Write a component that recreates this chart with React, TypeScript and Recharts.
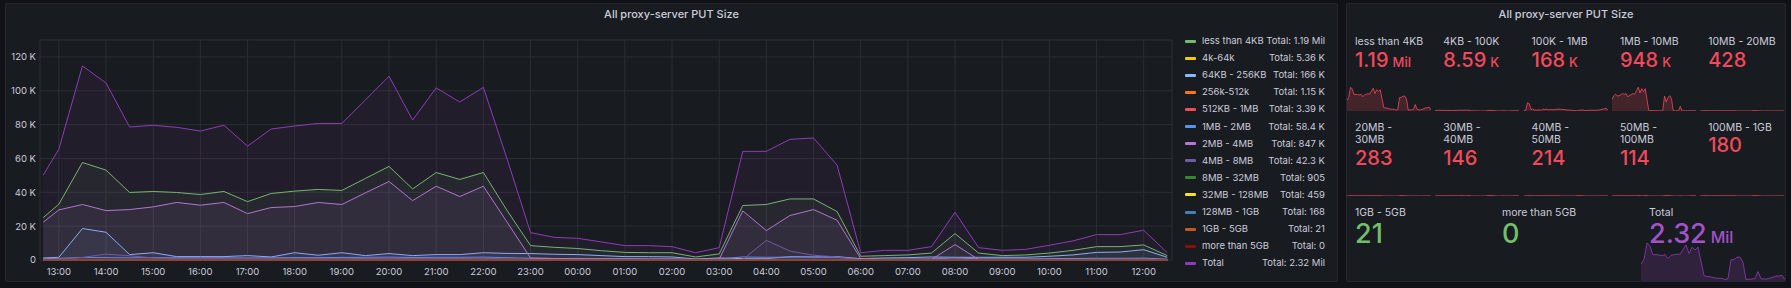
import React from "react";
import { AreaChart, Area, XAxis, YAxis, CartesianGrid } from "recharts";

const FONT = 'Inter, "Noto Sans", sans-serif';
const TEXT = "#ccccdc";

// sample times (30 min steps, first sample is the range start)
const TIMES = [
  "12:40", "13:00", "13:30", "14:00", "14:30", "15:00", "15:30", "16:00", "16:30", "17:00",
  "17:30", "18:00", "18:30", "19:00", "19:30", "20:00", "20:30", "21:00", "21:30", "22:00",
  "22:30", "23:00", "23:30", "00:00", "00:30", "01:00", "01:30", "02:00", "02:30", "03:00",
  "03:30", "04:00", "04:30", "05:00", "05:30", "06:00", "06:30", "07:00", "07:30", "08:00",
  "08:30", "09:00", "09:30", "10:00", "10:30", "11:00", "11:30", "12:00", "12:30",
];

const HOUR_TICKS = [
  "13:00", "14:00", "15:00", "16:00", "17:00", "18:00", "19:00", "20:00", "21:00", "22:00",
  "23:00", "00:00", "01:00", "02:00", "03:00", "04:00", "05:00", "06:00", "07:00", "08:00",
  "09:00", "10:00", "11:00", "12:00",
];

const Y_TICKS = [0, 20000, 40000, 60000, 80000, 100000, 120000];

const lessThan4KB = [
  25000, 33000, 57600, 53100, 39900, 40500, 39900, 38700, 40500, 34500,
  39300, 40700, 41700, 41100, 48200, 55300, 42000, 51700, 47600, 51700,
  29400, 8500, 7500, 6800, 5500, 4500, 4300, 4300, 1800, 3600,
  32200, 32800, 36100, 36100, 28600, 2200, 2600, 3000, 4100, 15600,
  4100, 2600, 3000, 4100, 5700, 7900, 7900, 8900, 2600,
];
const kb4to64 = [
  60, 80, 150, 140, 110, 120, 110, 110, 120, 100,
  110, 120, 120, 120, 140, 160, 120, 150, 140, 150,
  90, 40, 30, 30, 30, 20, 20, 20, 10, 20,
  110, 110, 120, 120, 90, 20, 20, 20, 30, 60,
  20, 20, 20, 30, 40, 50, 50, 60, 20,
];
const kb64to256 = [
  1200, 1600, 18600, 16400, 3200, 4300, 2000, 2000, 2000, 2600,
  1800, 4300, 2800, 4300, 2600, 3800, 2600, 3200, 3200, 4300,
  3900, 3800, 3400, 3200, 2600, 2000, 2000, 1800, 600, 1200,
  800, 800, 2000, 1800, 2000, 800, 1200, 1400, 1800, 1600,
  1600, 1600, 1600, 2200, 3000, 4500, 4700, 6100, 1600,
];
const kb256to512 = [
  10, 20, 40, 30, 20, 20, 20, 20, 20, 20,
  20, 20, 20, 20, 30, 30, 20, 30, 30, 30,
  20, 10, 10, 10, 10, 10, 10, 10, 0, 10,
  30, 30, 30, 30, 20, 0, 10, 10, 10, 20,
  10, 10, 10, 10, 10, 20, 20, 20, 10,
];
const kb512to1MB = [
  40, 50, 120, 110, 80, 70, 70, 70, 70, 60,
  70, 70, 70, 70, 80, 90, 70, 80, 80, 90,
  50, 20, 20, 20, 20, 10, 10, 10, 10, 10,
  70, 90, 80, 80, 60, 10, 10, 10, 20, 40,
  10, 10, 10, 20, 20, 30, 30, 30, 10,
];
const mb1to2 = [
  800, 1000, 1500, 1400, 1300, 1400, 1300, 1300, 1300, 1200,
  1300, 1400, 1400, 1500, 1600, 1700, 1500, 1600, 1600, 1700,
  1400, 1000, 900, 900, 800, 800, 700, 700, 500, 600,
  1800, 1600, 1700, 1800, 1500, 600, 600, 600, 700, 1200,
  700, 700, 700, 800, 900, 1000, 1000, 1100, 500,
];
const mb2to4 = [
  22300, 29600, 32800, 29200, 29800, 31400, 34000, 32400, 34000, 27400,
  31000, 31600, 34000, 32800, 39700, 46400, 35100, 43600, 37500, 43600,
  22500, 1200, 900, 700, 600, 500, 500, 500, 300, 500,
  29000, 17400, 26300, 29800, 23500, 800, 300, 300, 300, 9100,
  300, 300, 300, 400, 400, 400, 400, 500, 200,
];
const mb4to8 = [
  300, 500, 1500, 3500, 2500, 1200, 800, 700, 700, 600,
  700, 700, 800, 700, 900, 1000, 800, 900, 900, 1000,
  600, 200, 200, 100, 100, 100, 100, 100, 100, 100,
  300, 11600, 5300, 2800, 1800, 100, 100, 100, 100, 400,
  100, 100, 100, 100, 100, 200, 200, 200, 100,
];
const mb8to32 = [
  10, 10, 30, 30, 20, 20, 20, 20, 20, 20,
  20, 20, 20, 20, 30, 30, 20, 30, 20, 30,
  20, 10, 0, 0, 0, 0, 0, 0, 0, 0,
  30, 40, 30, 30, 20, 0, 0, 0, 0, 10,
  0, 0, 0, 0, 10, 10, 10, 10, 0,
];
const mb32to128 = [
  0, 10, 10, 10, 10, 10, 10, 10, 10, 10,
  10, 10, 10, 10, 10, 20, 10, 10, 10, 20,
  10, 0, 0, 0, 0, 0, 0, 0, 0, 0,
  20, 20, 20, 20, 10, 0, 0, 0, 0, 10,
  0, 0, 0, 0, 0, 10, 10, 10, 0,
];
const mb128to1GB = [
  0, 0, 10, 10, 0, 10, 0, 0, 10, 0,
  0, 10, 0, 10, 10, 10, 0, 10, 10, 10,
  0, 0, 0, 0, 0, 0, 0, 0, 0, 0,
  10, 10, 10, 10, 0, 0, 0, 0, 0, 0,
  0, 0, 0, 0, 0, 0, 0, 10, 0,
];
const gb1to5 = [
  0, 0, 2, 1, 0, 1, 0, 0, 1, 0,
  0, 1, 0, 1, 1, 2, 0, 1, 1, 2,
  0, 0, 0, 0, 0, 0, 0, 0, 0, 0,
  1, 2, 1, 1, 0, 0, 0, 0, 0, 1,
  0, 0, 0, 0, 0, 0, 0, 0, 0,
];
const moreThan5GB = [
  0, 0, 0, 0, 0, 0, 0, 0, 0, 0,
  0, 0, 0, 0, 0, 0, 0, 0, 0, 0,
  0, 0, 0, 0, 0, 0, 0, 0, 0, 0,
  0, 0, 0, 0, 0, 0, 0, 0, 0, 0,
  0, 0, 0, 0, 0, 0, 0, 0, 0,
];
const total = [
  50100, 65500, 114700, 104600, 78600, 79600, 78400, 76200, 79600, 67300,
  77400, 79200, 80700, 80700, 94600, 108600, 82700, 101700, 93400, 102000,
  60000, 16200, 13400, 12800, 10700, 8500, 8500, 7900, 4300, 7300,
  64200, 64200, 71300, 72100, 56000, 4300, 5700, 5700, 7900, 28200,
  7300, 5700, 6300, 8700, 11300, 15000, 15000, 17600, 4300,
];

const SERIES_NAMES = [
  "less than 4KB", "4k-64k", "64KB - 256KB", "256k-512k", "512KB - 1MB", "1MB - 2MB",
  "2MB - 4MB", "4MB - 8MB", "8MB - 32MB", "32MB - 128MB", "128MB - 1GB", "1GB - 5GB",
  "more than 5GB", "Total",
];
const SERIES_TOTALS = [
  "1.19 Mil", "5.36 K", "166 K", "1.15 K", "3.39 K", "58.4 K", "847 K", "42.3 K",
  "905", "459", "168", "21", "0", "2.32 Mil",
];
const SERIES_DATA = [
  lessThan4KB, kb4to64, kb64to256, kb256to512, kb512to1MB, mb1to2, mb2to4, mb4to8,
  mb8to32, mb32to128, mb128to1GB, gb1to5, moreThan5GB, total,
];
const COLORS = [
  "#73BF69", "#F2CC0C", "#8AB8FF", "#FF780A", "#F2495C", "#5794F2", "#B877D9",
  "#705DA0", "#37872D", "#FADE2A", "#447EBC", "#C15C17", "#890F02", "#8F3BB8",
];

// stat panel
const STAT_LABELS = [
  "less than 4KB", "4KB - 100K", "100K - 1MB", "1MB - 10MB", "10MB - 20MB",
  "20MB -\n30MB", "30MB -\n40MB", "40MB -\n50MB", "50MB -\n100MB", "100MB - 1GB",
  "1GB - 5GB", "more than 5GB", "Total",
];
const STAT_VALUES = ["1.19", "8.59", "168", "948", "428", "283", "146", "214", "114", "180", "21", "0", "2.32"];
const STAT_UNITS = ["Mil", "K", "K", "K", "", "", "", "", "", "", "", "", "Mil"];
const STAT_SPARKS = [
  lessThan4KB, kb4to64, kb64to256, mb2to4, mb8to32,
  mb8to32, mb32to128, mb8to32, mb32to128, mb8to32,
  null, null, total,
];

// turn "HH:MM" labels into minutes on a continuous timeline (wraps past midnight)
function toTimeline(labels: string[]) {
  let day = 0;
  let prev = -1;
  return labels.map((s) => {
    const [h, m] = s.split(":").map(Number);
    let v = h * 60 + m + day * 1440;
    if (v < prev) {
      day += 1;
      v += 1440;
    }
    prev = v;
    return v;
  });
}

const times = toTimeline(TIMES);
const hourTicks = toTimeline(HOUR_TICKS);

const rows = times.map((t, i) => {
  const r: Record<string, number> = { t };
  SERIES_DATA.forEach((d, k) => {
    r[`s${k}`] = d[i];
  });
  return r;
});

const fmtTime = (v: number) => {
  const h = Math.floor(v / 60) % 24;
  const m = v % 60;
  return `${String(h).padStart(2, "0")}:${String(m).padStart(2, "0")}`;
};
const fmtY = (v: number) => (v === 0 ? "0" : `${v / 1000} K`);

function Spark({ data, color, width, height, scale }: any) {
  const pts = data.map((v: number, i: number) => ({ i, v }));
  return (
    <AreaChart width={width} height={height} data={pts} margin={{ top: 1, right: 0, bottom: 0, left: 0 }}>
      <XAxis dataKey="i" type="number" domain={["dataMin", "dataMax"]} hide />
      <YAxis hide domain={[0, (max: number) => Math.max(max * scale, 1)]} />
      <Area
        type="linear"
        dataKey="v"
        stroke={color}
        strokeOpacity={0.8}
        strokeWidth={1}
        fill={color}
        fillOpacity={0.2}
        dot={false}
        activeDot={false}
        isAnimationActive={false}
      />
    </AreaChart>
  );
}

function StatCell({ idx }: { idx: number }) {
  let x: number, w: number, labelTop: number, sparkTop: number, sparkH: number, valueSize: number, unitSize: number;
  const color = idx >= 12 ? "#A352CC" : idx >= 10 ? "#73BF69" : "#F2495C";
  const sparkColor = idx >= 12 ? "#8F3BB8" : "#F2495C";
  if (idx < 10) {
    const col = idx % 5;
    x = 1347 + col * 88.3;
    w = 84;
    labelTop = idx < 5 ? 35.8 : 121.5;
    sparkTop = idx < 5 ? 85 : 170;
    sparkH = 26;
    valueSize = 20;
    unitSize = 13;
  } else {
    x = 1347 + (idx - 10) * 147;
    w = 144;
    labelTop = 206.5;
    sparkTop = 240;
    sparkH = 41;
    valueSize = 27;
    unitSize = 16;
  }
  const spark = STAT_SPARKS[idx];
  const scale = idx === 2 ? 3 : idx === 1 ? 30 : idx >= 4 && idx < 10 ? 60 : 1.05;
  return (
    <>
      {spark && (
        <div style={{ position: "absolute", left: x, top: sparkTop }}>
          <Spark data={spark} color={sparkColor} width={w} height={sparkH} scale={scale} />
        </div>
      )}
      <div style={{ position: "absolute", left: x + 8, top: labelTop }}>
        <div style={{ fontSize: 10.5, lineHeight: "12.7px", whiteSpace: "pre-line", color: TEXT }}>
          {STAT_LABELS[idx]}
        </div>
        <div style={{ marginTop: -1, lineHeight: 1.21, color, whiteSpace: "nowrap" }}>
          <span style={{ fontSize: valueSize, fontWeight: 500 }}>{STAT_VALUES[idx]}</span>
          {STAT_UNITS[idx] && (
            <span style={{ fontSize: unitSize, fontWeight: 500, marginLeft: 4 }}>{STAT_UNITS[idx]}</span>
          )}
        </div>
      </div>
    </>
  );
}

export default function App() {
  return (
    <div
      style={{
        position: "fixed",
        left: 0,
        top: 0,
        width: 1791,
        height: 288,
        background: "#111217",
        fontFamily: FONT,
        color: TEXT,
        overflow: "hidden",
      }}
    >
      {/* time series panel */}
      <div
        style={{
          position: "absolute",
          left: 5,
          top: 3,
          width: 1333,
          height: 279,
          background: "#181b1f",
          border: "1px solid #24272d",
          borderRadius: 2,
          boxSizing: "border-box",
        }}
      />
      <div
        style={{
          position: "absolute",
          left: 5,
          width: 1333,
          top: 8.5,
          textAlign: "center",
          fontSize: 11,
          lineHeight: 1,
          fontWeight: 500,
        }}
      >
        All proxy-server PUT Size
      </div>
      <div style={{ position: "absolute", left: 0, top: 0 }}>
        <AreaChart width={1180} height={288} data={rows} margin={{ top: 40, right: 8, bottom: 0, left: 0 }}>
          <CartesianGrid stroke="#2b2e34" />
          <XAxis
            dataKey="t"
            type="number"
            domain={[756, 2196]}
            ticks={hourTicks}
            tickFormatter={fmtTime}
            height={28}
            tickSize={0}
            tickMargin={8}
            axisLine={false}
            tickLine={false}
            tick={{ fill: TEXT, fontSize: 9.5, fontFamily: FONT }}
          />
          <YAxis
            domain={[0, 130000]}
            ticks={Y_TICKS}
            tickFormatter={fmtY}
            width={40}
            tickSize={0}
            tickMargin={4}
            axisLine={false}
            tickLine={false}
            tick={{ fill: TEXT, fontSize: 9.5, fontFamily: FONT, width: 60 }}
          />
          {SERIES_NAMES.map((name, k) => (
            <Area
              key={name}
              name={name}
              type="linear"
              dataKey={`s${k}`}
              stroke={COLORS[k]}
              strokeWidth={1}
              fill={COLORS[k]}
              fillOpacity={0.08}
              dot={false}
              activeDot={false}
              isAnimationActive={false}
            />
          ))}
        </AreaChart>
      </div>
      {/* legend table */}
      {SERIES_NAMES.map((name, k) => (
        <div key={name} style={{ position: "absolute", left: 1185, top: 36 + k * 17.1, width: 140, height: 10 }}>
          <div style={{ position: "absolute", left: 0, top: 3.5, width: 11, height: 3, background: COLORS[k], borderRadius: 1 }} />
          <div style={{ position: "absolute", left: 17, top: 0, fontSize: 9.5, lineHeight: 1, whiteSpace: "nowrap" }}>
            {name}
          </div>
          <div style={{ position: "absolute", right: 0, top: 0, fontSize: 9.5, lineHeight: 1, whiteSpace: "nowrap" }}>
            Total: {SERIES_TOTALS[k]}
          </div>
        </div>
      ))}

      {/* stat panel */}
      <div
        style={{
          position: "absolute",
          left: 1346,
          top: 3,
          width: 440,
          height: 279,
          background: "#181b1f",
          border: "1px solid #24272d",
          borderRadius: 2,
          boxSizing: "border-box",
        }}
      />
      <div
        style={{
          position: "absolute",
          left: 1346,
          width: 440,
          top: 8.5,
          textAlign: "center",
          fontSize: 11,
          lineHeight: 1,
          fontWeight: 500,
        }}
      >
        All proxy-server PUT Size
      </div>
      {STAT_LABELS.map((_, i) => (
        <StatCell key={i} idx={i} />
      ))}
    </div>
  );
}
